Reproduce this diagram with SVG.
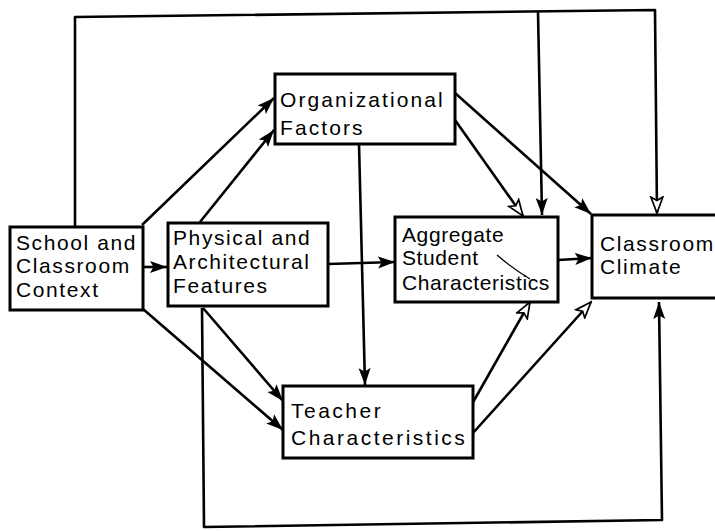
<svg xmlns="http://www.w3.org/2000/svg" width="715" height="531" viewBox="0 0 715 531">
  <style>
    .box { fill: #ffffff; stroke: #000000; stroke-width: 3; }
    .lbl { font-family: "Liberation Sans", Arial, sans-serif; font-size: 21px; letter-spacing: 1.6px; fill: #000000; }
    .tight { letter-spacing: 0.6px; }
    .wide { letter-spacing: 2.5px; }
    .wire { fill: none; stroke: #000000; stroke-width: 2.6; stroke-linejoin: round; }
    .wire.solid { marker-end: url(#headSolid); }
    .wire.open { marker-end: url(#headOpen); }
    .stray { fill: none; stroke: #000000; stroke-width: 1.3; }
  </style>
  <defs>
    <marker id="headSolid" markerUnits="userSpaceOnUse" markerWidth="18" markerHeight="14" refX="17" refY="7" orient="auto">
      <path d="M0,1 L17,7 L0,13 L3.5,7 z" fill="#000000"/>
    </marker>
    <marker id="headOpen" markerUnits="userSpaceOnUse" markerWidth="19" markerHeight="15" refX="17" refY="7.5" orient="auto">
      <path d="M1,1.5 L17,7.5 L1,13.5 L4.5,7.5 z" fill="#ffffff" stroke="#000000" stroke-width="1.7"/>
    </marker>
  </defs>

  <rect width="715" height="531" fill="#ffffff"/>

  <!-- connectors -->
  <g id="connectors">
    <!-- feedback loop across the top -->
    <path class="wire open" d="M75,227 L75,17 L655,10 L657,213"/>
    <path class="wire solid" d="M538,12 L542,215"/>
    <!-- loop along the bottom -->
    <path class="wire solid" d="M202,308 L204,527 L662,520 L659,302"/>
    <!-- context links -->
    <path class="wire solid" d="M143,267 L167,267"/>
    <path class="wire solid" d="M142,225 L274,98"/>
    <path class="wire solid" d="M143,309 L283,430"/>
    <!-- physical features links -->
    <path class="wire solid" d="M200,222 L274,130"/>
    <path class="wire solid" d="M203,308 L283,401"/>
    <path class="wire solid" d="M328,264 L395,262"/>
    <!-- organizational links -->
    <path class="wire solid" d="M359,144 L365,385"/>
    <path class="wire open" d="M455,120 L523,216"/>
    <path class="wire solid" d="M455,93 L591,214"/>
    <!-- into climate -->
    <path class="wire solid" d="M558,260 L592,258"/>
    <!-- teacher links -->
    <path class="wire open" d="M472,404 L530,302"/>
    <path class="wire open" d="M473,433 L591,302"/>
  </g>

  <g id="school-context">
    <rect class="box" x="10" y="227" width="133" height="83"/>
    <text class="lbl" x="16" y="250">School and</text>
    <text class="lbl" x="16" y="273">Classroom</text>
    <text class="lbl" x="16" y="297">Context</text>
  </g>

  <g id="physical-features">
    <rect class="box" x="168" y="223" width="160" height="83"/>
    <text class="lbl" x="173" y="245">Physical and</text>
    <text class="lbl" x="173" y="269">Architectural</text>
    <text class="lbl" x="173" y="293">Features</text>
  </g>

  <g id="organizational-factors">
    <rect class="box" x="275" y="74" width="180" height="70"/>
    <text class="lbl" x="280" y="107" style="letter-spacing:2.1px">Organizational</text>
    <text class="lbl" x="280" y="135" style="letter-spacing:2.1px">Factors</text>
  </g>

  <g id="aggregate-student">
    <rect class="box" x="395" y="217" width="163" height="85"/>
    <text class="lbl tight" x="402" y="242">Aggregate</text>
    <text class="lbl tight" x="402" y="265">Student</text>
    <text class="lbl tight" x="402" y="290">Characteristics</text>
    <path class="stray" d="M497,255 Q512,268 530,279"/>
  </g>

  <g id="classroom-climate">
    <rect class="box" x="592" y="215" width="140" height="83"/>
    <text class="lbl" x="600" y="251">Classroom</text>
    <text class="lbl" x="600" y="274">Climate</text>
  </g>

  <g id="teacher-characteristics">
    <rect class="box" x="283" y="386" width="190" height="72"/>
    <text class="lbl wide" x="291" y="418">Teacher</text>
    <text class="lbl wide" x="291" y="445">Characteristics</text>
  </g>
</svg>
